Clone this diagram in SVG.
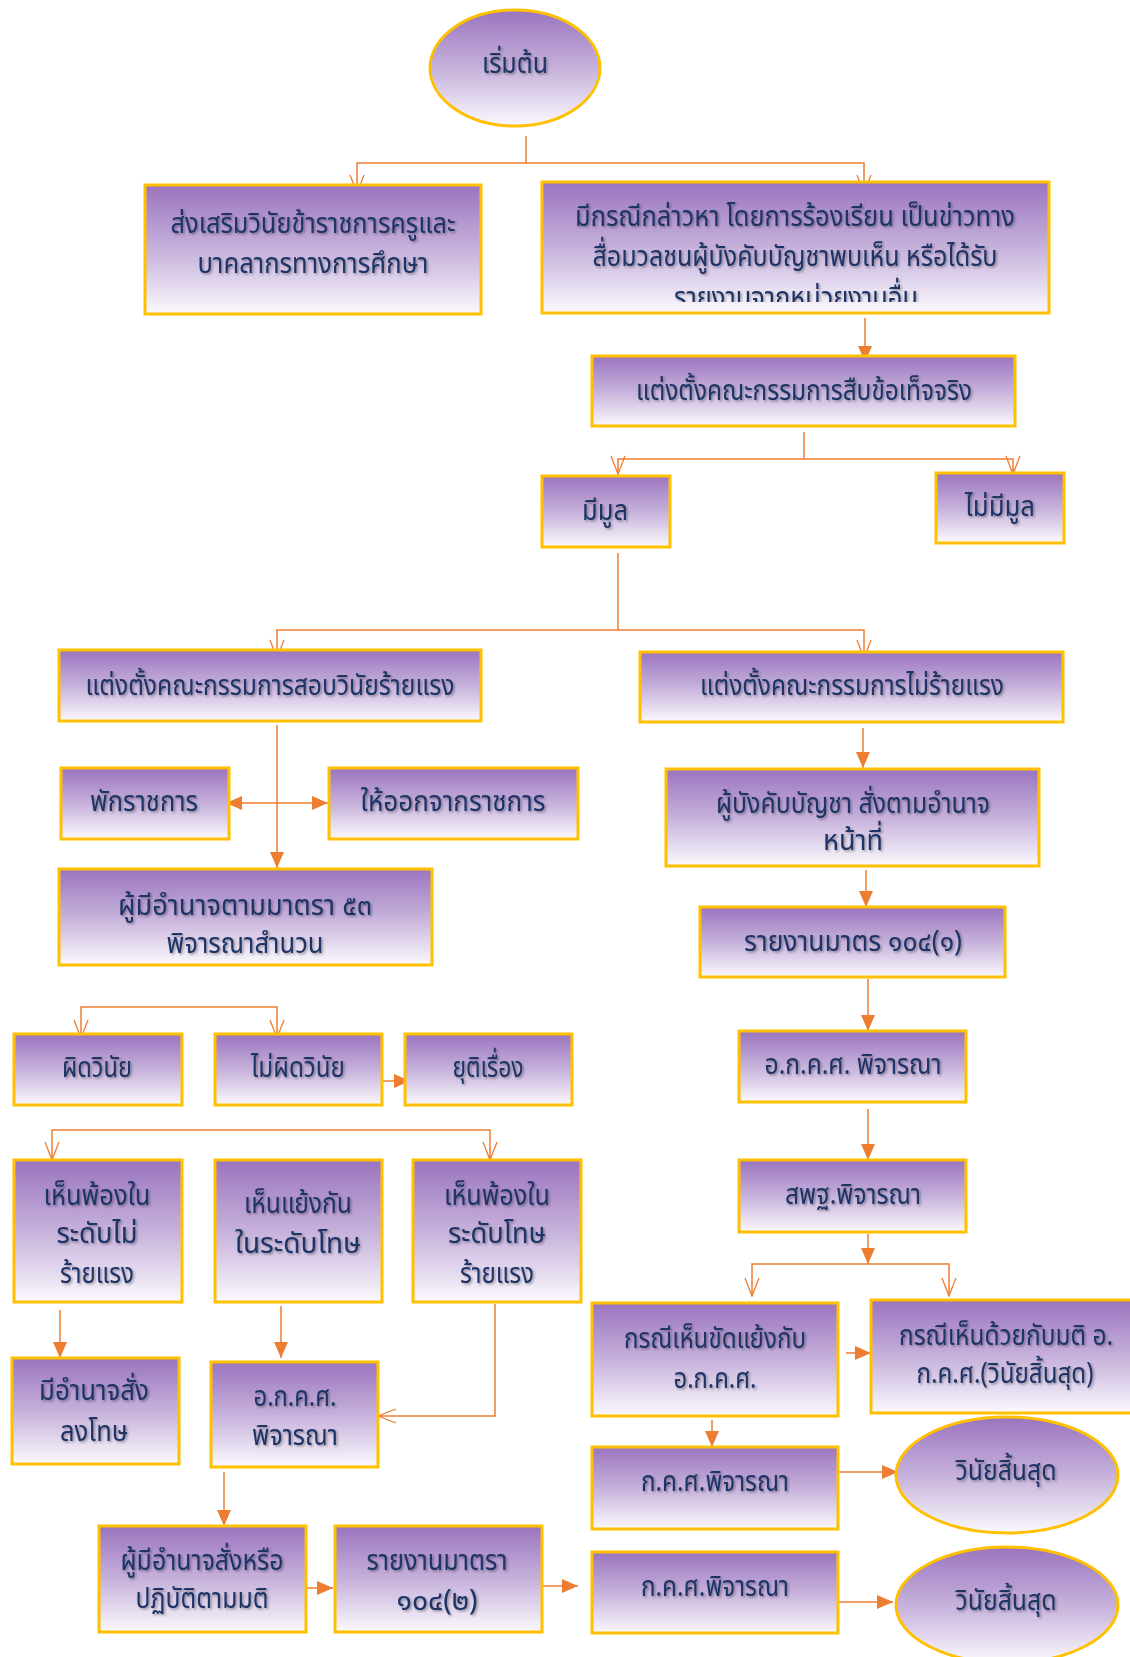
<svg xmlns="http://www.w3.org/2000/svg" width="1130" height="1657" viewBox="0 0 1130 1657">
<defs>
<linearGradient id="pg" x1="0" y1="0" x2="0" y2="1">
<stop offset="0" stop-color="#9A74BF"/>
<stop offset="0.5" stop-color="#C6B1DB"/>
<stop offset="1" stop-color="#FBF9FD"/>
</linearGradient>
<filter id="ts" x="-10%" y="-30%" width="120%" height="160%">
<feDropShadow dx="1.5" dy="1.5" stdDeviation="1" flood-color="#000" flood-opacity="0.35"/>
</filter>
<marker id="ov" viewBox="0 0 20 16" refX="19" refY="8" markerWidth="20" markerHeight="16" markerUnits="userSpaceOnUse" orient="auto">
<path d="M1,1 L19,8 L1,15" fill="none" stroke="#ED7D31" stroke-width="1.3"/>
</marker>
<marker id="fa" viewBox="0 0 16 14" refX="16" refY="7" markerWidth="16" markerHeight="14" markerUnits="userSpaceOnUse" orient="auto-start-reverse">
<path d="M0,0 L16,7 L0,14 z" fill="#ED7D31"/>
</marker>
<clipPath id="clipB"><rect x="542" y="182" width="507" height="120"/></clipPath>
</defs>
<style>
.box{fill:url(#pg);stroke:#FFC000;stroke-width:3}
.t{font-family:"Noto Sans Thai","Noto Sans Thai UI","Leelawadee UI",Tahoma,"Noto Sans","DejaVu Sans",sans-serif;font-size:29px;fill:#1F3466;text-anchor:middle;dominant-baseline:central;filter:url(#ts)}
.c{fill:none;stroke:#ED7D31;stroke-width:1.5}
.o{marker-end:url(#ov)}
.f{marker-end:url(#fa)}
</style>
<rect width="1130" height="1657" fill="#fff"/>

<g id="connectors">
<path class="c" d="M526,136 V163"/>
<path class="c o" d="M526,163 H357 V193"/>
<path class="c o" d="M526,163 H864 V193"/>
<path class="c f" d="M865,318 V362"/>
<path class="c" d="M804,432 V459"/>
<path class="c o" d="M804,459 H618 V474"/>
<path class="c o" d="M804,459 H1013 V474"/>
<path class="c" d="M618,553 V630"/>
<path class="c o" d="M618,630 H277 V658"/>
<path class="c o" d="M618,630 H864 V658"/>
<path class="c f" d="M277,725 V868"/>
<path class="c f" d="M277,803 H226"/>
<path class="c f" d="M277,803 H328"/>
<path class="c f" d="M863,728 V768"/>
<path class="c f" d="M866,870 V907"/>
<path class="c f" d="M868,979 V1031"/>
<path class="c f" d="M868,1109 V1160"/>
<path class="c f" d="M868,1234 V1264"/>
<path class="c o" d="M868,1264 H752 V1296"/>
<path class="c o" d="M868,1264 H949 V1296"/>
<path class="c f" d="M846,1353 H871"/>
<path class="c f" d="M712,1420 V1447"/>
<path class="c f" d="M836,1472 H898"/>
<path class="c f" d="M835,1602 H893"/>
<path class="c o" d="M179,1007 H81 V1038"/>
<path class="c o" d="M179,1007 H277 V1038"/>
<path class="c f" d="M375,1081 H410"/>
<path class="c o" d="M271,1130 H52 V1160"/>
<path class="c o" d="M271,1130 H490 V1160"/>
<path class="c f" d="M60,1310 V1358"/>
<path class="c f" d="M281,1306 V1358"/>
<path class="c o" d="M495,1304 V1416 H378"/>
<path class="c f" d="M224,1472 V1526"/>
<path class="c f" d="M303,1588 H333"/>
<path class="c f" d="M540,1586 H578"/>
</g>

<g id="start"><ellipse class="box" cx="515" cy="68" rx="85" ry="58"/><text class="t" x="515" y="64" textLength="66" lengthAdjust="spacingAndGlyphs">เริ่มต้น</text></g>

<g id="promote"><rect class="box" x="145" y="185" width="336" height="129"/>
<text class="t" x="313" y="224" textLength="285" lengthAdjust="spacingAndGlyphs">ส่งเสริมวินัยข้าราชการครูและ</text>
<text class="t" x="313" y="264" textLength="231" lengthAdjust="spacingAndGlyphs">บาคลากรทางการศึกษา</text></g>

<g id="complaint"><rect class="box" x="542" y="182" width="507" height="131"/>
<g clip-path="url(#clipB)">
<text class="t" x="795" y="217" textLength="440" lengthAdjust="spacingAndGlyphs">มีกรณีกล่าวหา โดยการร้องเรียน เป็นข่าวทาง</text>
<text class="t" x="795" y="257" textLength="405" lengthAdjust="spacingAndGlyphs">สื่อมวลชนผู้บังคับบัญชาพบเห็น หรือได้รับ</text>
<text class="t" x="796" y="298" textLength="244" lengthAdjust="spacingAndGlyphs">รายงานจากหน่วยงานอื่น</text>
</g></g>

<g id="factfind"><rect class="box" x="592" y="356" width="423" height="70"/><text class="t" x="804" y="391" textLength="336" lengthAdjust="spacingAndGlyphs">แต่งตั้งคณะกรรมการสืบข้อเท็จจริง</text></g>

<g id="hasbasis"><rect class="box" x="542" y="476" width="128" height="71"/><text class="t" x="605" y="511" textLength="46" lengthAdjust="spacingAndGlyphs">มีมูล</text></g>
<g id="nobasis"><rect class="box" x="936" y="473" width="128" height="70"/><text class="t" x="1000" y="507" textLength="70" lengthAdjust="spacingAndGlyphs">ไม่มีมูล</text></g>

<g id="serious"><rect class="box" x="59" y="650" width="422" height="71"/><text class="t" x="270" y="686" textLength="369" lengthAdjust="spacingAndGlyphs">แต่งตั้งคณะกรรมการสอบวินัยร้ายแรง</text></g>
<g id="notserious"><rect class="box" x="640" y="652" width="423" height="70"/><text class="t" x="852" y="686" textLength="304" lengthAdjust="spacingAndGlyphs">แต่งตั้งคณะกรรมการไม่ร้ายแรง</text></g>

<g id="suspend"><rect class="box" x="61" y="768" width="168" height="71"/><text class="t" x="144" y="802" textLength="108" lengthAdjust="spacingAndGlyphs">พักราชการ</text></g>
<g id="dismiss"><rect class="box" x="329" y="768" width="249" height="71"/><text class="t" x="453" y="802" textLength="185" lengthAdjust="spacingAndGlyphs">ให้ออกจากราชการ</text></g>

<g id="auth53"><rect class="box" x="59" y="869" width="373" height="96"/>
<text class="t" x="245" y="906" textLength="254" lengthAdjust="spacingAndGlyphs">ผู้มีอำนาจตามมาตรา  ๕๓</text>
<text class="t" x="245" y="944" textLength="157" lengthAdjust="spacingAndGlyphs">พิจารณาสำนวน</text></g>

<g id="commander"><rect class="box" x="666" y="769" width="373" height="97"/>
<text class="t" x="853" y="804" textLength="274" lengthAdjust="spacingAndGlyphs">ผู้บังคับบัญชา สั่งตามอำนาจ</text>
<text class="t" x="853" y="841" textLength="60" lengthAdjust="spacingAndGlyphs">หน้าที่</text></g>

<g id="report1"><rect class="box" x="700" y="907" width="305" height="70"/><text class="t" x="853" y="942" textLength="218" lengthAdjust="spacingAndGlyphs">รายงานมาตร ๑๐๔(๑)</text></g>
<g id="okks1"><rect class="box" x="739" y="1031" width="227" height="71"/><text class="t" x="853" y="1065" textLength="177" lengthAdjust="spacingAndGlyphs">อ.ก.ค.ศ. พิจารณา</text></g>
<g id="obec"><rect class="box" x="739" y="1160" width="227" height="72"/><text class="t" x="853" y="1195" textLength="136" lengthAdjust="spacingAndGlyphs">สพฐ.พิจารณา</text></g>

<g id="guilty"><rect class="box" x="14" y="1034" width="168" height="71"/><text class="t" x="97" y="1068" textLength="70" lengthAdjust="spacingAndGlyphs">ผิดวินัย</text></g>
<g id="notguilty"><rect class="box" x="215" y="1034" width="167" height="71"/><text class="t" x="298" y="1068" textLength="94" lengthAdjust="spacingAndGlyphs">ไม่ผิดวินัย</text></g>
<g id="end"><rect class="box" x="405" y="1034" width="167" height="71"/><text class="t" x="488" y="1068" textLength="71" lengthAdjust="spacingAndGlyphs">ยุติเรื่อง</text></g>

<g id="agreeminor"><rect class="box" x="14" y="1160" width="168" height="142"/>
<text class="t" x="97" y="1196" textLength="107" lengthAdjust="spacingAndGlyphs">เห็นพ้องใน</text>
<text class="t" x="97" y="1234" textLength="81" lengthAdjust="spacingAndGlyphs">ระดับไม่</text>
<text class="t" x="97" y="1274" textLength="74" lengthAdjust="spacingAndGlyphs">ร้ายแรง</text></g>
<g id="disagree"><rect class="box" x="215" y="1160" width="167" height="142"/>
<text class="t" x="298" y="1204" textLength="108" lengthAdjust="spacingAndGlyphs">เห็นแย้งกัน</text>
<text class="t" x="298" y="1244" textLength="126" lengthAdjust="spacingAndGlyphs">ในระดับโทษ</text></g>
<g id="agreeserious"><rect class="box" x="413" y="1160" width="168" height="142"/>
<text class="t" x="497" y="1196" textLength="106" lengthAdjust="spacingAndGlyphs">เห็นพ้องใน</text>
<text class="t" x="497" y="1234" textLength="98" lengthAdjust="spacingAndGlyphs">ระดับโทษ</text>
<text class="t" x="497" y="1274" textLength="74" lengthAdjust="spacingAndGlyphs">ร้ายแรง</text></g>

<g id="punish"><rect class="box" x="12" y="1358" width="167" height="106"/>
<text class="t" x="94" y="1391" textLength="110" lengthAdjust="spacingAndGlyphs">มีอำนาจสั่ง</text>
<text class="t" x="94" y="1432" textLength="68" lengthAdjust="spacingAndGlyphs">ลงโทษ</text></g>
<g id="okks2"><rect class="box" x="211" y="1362" width="167" height="105"/>
<text class="t" x="295" y="1397" textLength="83" lengthAdjust="spacingAndGlyphs">อ.ก.ค.ศ.</text>
<text class="t" x="295" y="1436" textLength="86" lengthAdjust="spacingAndGlyphs">พิจารณา</text></g>

<g id="order"><rect class="box" x="99" y="1526" width="207" height="106"/>
<text class="t" x="202" y="1561" textLength="163" lengthAdjust="spacingAndGlyphs">ผู้มีอำนาจสั่งหรือ</text>
<text class="t" x="202" y="1599" textLength="133" lengthAdjust="spacingAndGlyphs">ปฏิบัติตามมติ</text></g>
<g id="report2"><rect class="box" x="335" y="1526" width="207" height="106"/>
<text class="t" x="437" y="1561" textLength="141" lengthAdjust="spacingAndGlyphs">รายงานมาตรา</text>
<text class="t" x="437" y="1601" textLength="81" lengthAdjust="spacingAndGlyphs">๑๐๔(๒)</text></g>

<g id="conflict"><rect class="box" x="592" y="1303" width="246" height="113"/>
<text class="t" x="715" y="1339" textLength="182" lengthAdjust="spacingAndGlyphs">กรณีเห็นขัดแย้งกับ</text>
<text class="t" x="715" y="1379" textLength="83" lengthAdjust="spacingAndGlyphs">อ.ก.ค.ศ.</text></g>
<g id="agreeokks"><rect class="box" x="871" y="1300" width="275" height="113"/>
<text class="t" x="1006" y="1336" textLength="214" lengthAdjust="spacingAndGlyphs">กรณีเห็นด้วยกับมติ อ.</text>
<text class="t" x="1005" y="1374" textLength="177" lengthAdjust="spacingAndGlyphs">ก.ค.ศ.(วินัยสิ้นสุด)</text></g>

<g id="kks1"><rect class="box" x="592" y="1447" width="246" height="82"/><text class="t" x="715" y="1482" textLength="148" lengthAdjust="spacingAndGlyphs">ก.ค.ศ.พิจารณา</text></g>
<g id="final1"><ellipse class="box" cx="1007" cy="1475" rx="111" ry="58"/><text class="t" x="1006" y="1471" textLength="101" lengthAdjust="spacingAndGlyphs">วินัยสิ้นสุด</text></g>
<g id="kks2"><rect class="box" x="592" y="1552" width="246" height="81"/><text class="t" x="715" y="1587" textLength="148" lengthAdjust="spacingAndGlyphs">ก.ค.ศ.พิจารณา</text></g>
<g id="final2"><ellipse class="box" cx="1007" cy="1605" rx="111" ry="58"/><text class="t" x="1006" y="1601" textLength="101" lengthAdjust="spacingAndGlyphs">วินัยสิ้นสุด</text></g>
</svg>
